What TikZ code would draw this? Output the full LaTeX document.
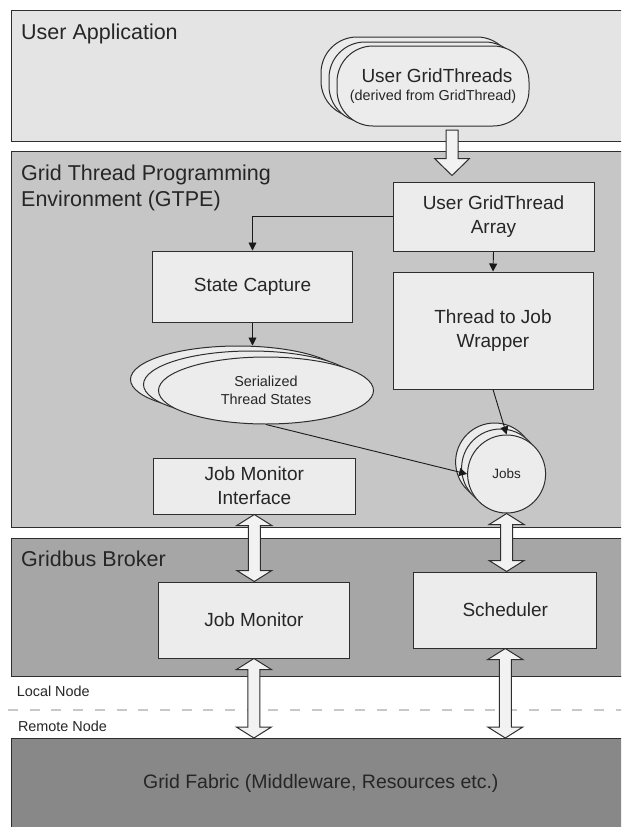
\documentclass[tikz,border=0pt]{standalone}
\usepackage{fontspec}
\setmainfont{Liberation Sans}
\usetikzlibrary{arrows.meta,shapes.geometric,calc}

\definecolor{appfill}{HTML}{E4E4E4}
\definecolor{gtpefill}{HTML}{C6C6C6}
\definecolor{brokerfill}{HTML}{A6A6A6}
\definecolor{fabricfill}{HTML}{888888}
\definecolor{boxfill}{HTML}{ECECEC}
\definecolor{edge}{HTML}{2E2E2E}
\definecolor{sepline}{HTML}{C8C8C8}

% hollow block arrow pointing down, from #1 to the tip #2
\newcommand\hollowdown[2]{%
  \draw[hollow] let \p1=(#1), \p2=(#2) in
    (\x1-6pt,\y1) -- (\x1-6pt,\y2+17pt) -- (\x1-17.5pt,\y2+17pt) -- (\x1,\y2)
    -- (\x1+17.5pt,\y2+17pt) -- (\x1+6pt,\y2+17pt) -- (\x1+6pt,\y1) -- cycle;}
% hollow block arrow with heads at both ends, vertical, from #1 (top) to #2 (bottom)
\newcommand\hollowboth[2]{%
  \draw[hollow] let \p1=(#1), \p2=(#2) in
    (\x1,\y1) -- (\x1+17.5pt,\y1-11pt) -- (\x1+6pt,\y1-11pt) -- (\x1+6pt,\y2+11pt)
    -- (\x1+17.5pt,\y2+11pt) -- (\x1,\y2) -- (\x1-17.5pt,\y2+11pt) -- (\x1-6pt,\y2+11pt)
    -- (\x1-6pt,\y1-11pt) -- (\x1-17.5pt,\y1-11pt) -- cycle;}

\begin{document}
\begin{tikzpicture}[x=1pt,y=-1pt,
  band/.style={draw=edge, line width=1pt, anchor=north west, minimum width=640pt, inner sep=0pt},
  title/.style={anchor=base west, inner sep=0pt, font=\fontsize{21.5}{26}\selectfont, text=black!85},
  box/.style={draw=edge, line width=1pt, fill=boxfill, align=center, inner sep=0pt,
    font=\fontsize{19}{24}\selectfont, text=black!85},
  smalltext/.style={font=\fontsize{14.4}{18}\selectfont, text=black!85, align=center, inner sep=0pt},
  stackshape/.style={draw=edge, line width=1pt, fill=boxfill, inner sep=0pt},
  link/.style={draw=black!90, line width=0.9pt, -{Triangle[length=8pt,width=8pt]}},
  hollow/.style={draw=edge, line width=1pt, fill=boxfill!70!white},
]
\clip (0,0) rectangle (621,827);
\fill[white] (0,0) rectangle (621,827);

% layers
\node[band, fill=appfill,    minimum height=131pt] (app)    at (11,10)  {};
\node[band, fill=gtpefill,   minimum height=376pt] (gtpe)   at (11,151) {};
\node[band, fill=brokerfill, minimum height=138pt] (broker) at (11,538) {};
\node[band, fill=fabricfill, minimum height=110pt] (fabric) at (11,738) {};

\node[title] (apptitle)    at (21,39)    {User Application};
\node[title] (gtpetitleA)  at (21,180)   {Grid Thread Programming};
\node[title] (gtpetitleB)  at (21,206.5) {Environment (GTPE)};
\node[title] (brokertitle) at (21,566.5) {Gridbus Broker};
\node[font=\fontsize{19.5}{24}\selectfont, text=black!85] (fabrictitle) at (320.8,783)
  {Grid Fabric (Middleware, Resources etc.)};

% local / remote separator
\coordinate (sepL) at (8,710);
\coordinate (sepR) at (640,710);
\draw[sepline, line width=2.5pt, dash pattern=on 10pt off 11.7pt] (sepL) -- (sepR);
\node[smalltext, anchor=west] (localnode)  at (16.6,691.7) {Local Node};
\node[smalltext, anchor=west] (remotenode) at (17.8,726.7) {Remote Node};

% user grid threads (stack of three)
\node[stackshape, rounded corners=36pt, minimum width=192pt, minimum height=80pt] (threads3) at (417,77) {};
\node[stackshape, rounded corners=36pt, minimum width=192pt, minimum height=80pt] (threads2) at (425,82) {};
\node[stackshape, rounded corners=36pt, minimum width=192pt, minimum height=80pt] (threads)  at (433,86) {};
\node[font=\fontsize{19}{24}\selectfont, text=black!85, inner sep=0pt] (threadsA) at (437,76) {User GridThreads};
\node[smalltext] (threadsB) at (433,96.7) {(derived from GridThread)};

% GTPE boxes
\node[box, minimum width=201pt, minimum height=69pt]  (array)   at (493.5,216.5) {User GridThread\\Array};
\node[box, minimum width=200pt, minimum height=71pt]  (state)   at (252.5,286.5) {State Capture};
\node[box, minimum width=200pt, minimum height=117pt] (wrapper) at (493,330.5)   {Thread to Job\\Wrapper};
\node[box, minimum width=202pt, minimum height=56pt]  (jmi)     at (254.3,486)   {Job Monitor\\Interface};

% serialized thread states (stack of three ellipses)
\node[stackshape, ellipse, minimum width=215pt, minimum height=67pt] (ser3) at (238,379.5) {};
\node[stackshape, ellipse, minimum width=215pt, minimum height=67pt] (ser2) at (251,384.5) {};
\node[stackshape, ellipse, minimum width=215pt, minimum height=67pt, smalltext] (ser) at (266,390.5)
  {Serialized\\Thread States};

% jobs (stack of three circles)
\node[stackshape, circle, minimum size=78pt] (jobs3) at (494.6,462) {};
\node[stackshape, circle, minimum size=78pt] (jobs2) at (500.6,468) {};
\node[stackshape, circle, minimum size=78pt, font=\fontsize{13.5}{16}\selectfont, text=black!85] (jobs) at (506.6,474) {Jobs};

% broker boxes
\node[box, minimum width=191pt, minimum height=76pt] (jm)    at (253.9,620) {Job Monitor};
\node[box, minimum width=183pt, minimum height=76pt] (sched) at (505.3,610) {Scheduler};

% block arrows
\coordinate (inA) at (452,130);
\coordinate (inB) at (452,175.5);
\hollowdown{inA}{inB}
\hollowboth{jmi.south}{jm.north}
\hollowboth{jobs.south}{sched.north}
\hollowboth{jm.south}{jm.south |- fabric.north}
\hollowboth{sched.south}{sched.south |- fabric.north}

% flow arrows
\draw[link] (array.west) -| (state.north);
\draw[link] (array.south) -- (wrapper.north);
\draw[link] (state.south) -- (state.south |- ser3.north);
\draw[link] (wrapper.south) -- (jobs.north);
\draw[link] (ser.south) -- (jobs.west);
\end{tikzpicture}
\end{document}
